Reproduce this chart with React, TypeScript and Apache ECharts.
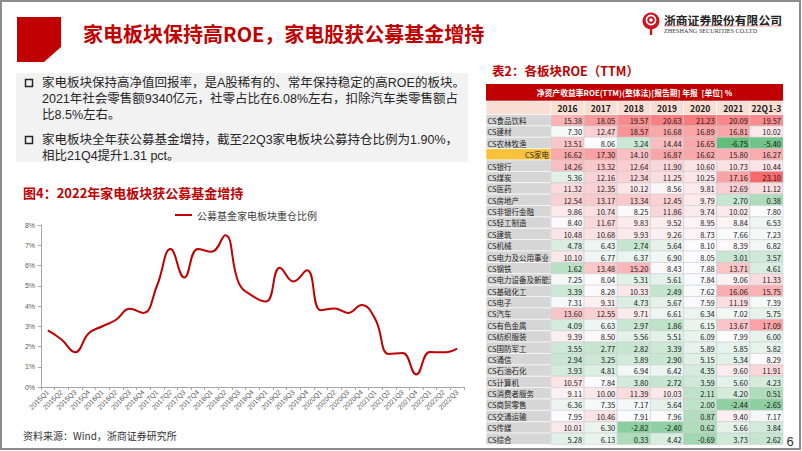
import React, { useEffect, useRef } from 'react';
import * as echarts from 'echarts';

const FONT = "'Noto Sans CJK SC', 'Noto Sans', sans-serif";
const BODY_FONT = "'Liberation Sans', 'Noto Sans CJK SC', sans-serif";
const LATIN = "'Liberation Sans', 'Noto Sans', sans-serif";
const RED = '#C00000';

// ---- line chart data ----
const quarters = [
  '2015Q1', '2015Q2', '2015Q3', '2015Q4',
  '2016Q1', '2016Q2', '2016Q3', '2016Q4',
  '2017Q1', '2017Q2', '2017Q3', '2017Q4',
  '2018Q1', '2018Q2', '2018Q3', '2018Q4',
  '2019Q1', '2019Q2', '2019Q3', '2019Q4',
  '2020Q1', '2020Q2', '2020Q3', '2020Q4',
  '2021Q1', '2021Q2', '2021Q3', '2021Q4',
  '2022Q1', '2022Q2', '2022Q3',
];
const holdingRatio = [
  2.8, 2.35, 1.72, 2.65,
  3.0, 3.32, 3.86, 3.66,
  5.0, 6.82, 5.41, 6.82,
  6.68, 7.5, 5.13, 4.5,
  4.22, 5.89, 5.21, 5.76,
  3.79, 3.88, 3.66, 4.05,
  3.35, 1.63, 1.68, 0.62,
  1.73, 1.71, 1.9,
];
const seriesName = '公募基金家电板块重仓比例';

// ---- table data ----
const yearHeaders = ['2016', '2017', '2018', '2019', '2020', '2021', '22Q1-3'];
const sectors = [
  'CS食品饮料', 'CS建材', 'CS农林牧渔', 'CS家电', 'CS银行', 'CS煤炭', 'CS医药', 'CS房地产',
  'CS非银行金融', 'CS轻工制造', 'CS建筑', 'CS机械', 'CS电力及公用事业', 'CS钢铁',
  'CS电力设备及新能源', 'CS基础化工', 'CS电子', 'CS汽车', 'CS有色金属', 'CS纺织服装',
  'CS国防军工', 'CS通信', 'CS石油石化', 'CS计算机', 'CS消费者服务', 'CS商贸零售',
  'CS交通运输', 'CS传媒', 'CS综合',
];
const roe2016 = [15.38, 7.30, 13.51, 16.62, 14.26, 5.36, 11.32, 12.54, 9.86, 8.40, 10.48, 4.78, 10.10, 1.62, 7.25, 3.39, 7.31, 13.60, 4.09, 9.39, 3.55, 2.94, 3.93, 10.57, 9.11, 6.36, 7.95, 10.01, 5.28];
const roe2017 = [18.05, 12.47, 8.06, 17.30, 13.32, 12.16, 12.35, 13.17, 10.74, 11.67, 10.68, 6.43, 6.77, 13.48, 8.04, 8.28, 9.31, 12.55, 6.63, 8.50, 2.77, 3.25, 4.81, 7.84, 10.00, 7.35, 10.46, 6.30, 6.13];
const roe2018 = [19.57, 18.57, 3.24, 14.10, 12.64, 12.34, 10.12, 13.34, 8.25, 9.83, 9.93, 2.74, 6.37, 15.20, 5.31, 10.33, 4.73, 9.71, 2.97, 5.56, 2.82, 3.89, 6.94, 3.80, 11.39, 7.17, 7.91, -2.82, 0.33];
const roe2019 = [20.63, 16.68, 14.44, 16.87, 11.90, 11.25, 8.56, 12.45, 11.86, 9.52, 9.26, 5.64, 6.90, 8.43, 5.61, 2.49, 5.67, 6.61, 1.86, 5.51, 3.39, 2.90, 6.42, 2.72, 10.03, 5.64, 7.96, -2.40, 4.42];
const roe2020 = [21.23, 16.89, 16.65, 16.62, 10.60, 10.25, 9.81, 9.79, 9.74, 8.95, 8.73, 8.10, 8.05, 7.88, 7.84, 7.62, 7.59, 6.34, 6.15, 6.09, 5.89, 5.15, 4.35, 3.59, 2.11, 2.00, 0.87, 0.62, -0.69];
const roe2021 = [20.09, 16.81, -6.75, 15.80, 10.73, 17.16, 12.69, 2.70, 10.02, 8.84, 7.66, 8.39, 3.01, 13.71, 9.06, 16.06, 11.19, 7.02, 13.67, 7.99, 5.85, 5.34, 9.60, 5.60, 4.20, -2.44, 9.40, 5.66, 3.73];
const roe22Q13 = [19.57, 10.02, -5.40, 16.27, 10.44, 23.10, 11.12, 0.38, 7.80, 6.53, 7.23, 6.82, 3.57, 4.61, 11.33, 15.75, 7.39, 5.75, 17.09, 6.00, 5.82, 8.29, 11.91, 4.23, 0.51, -2.65, 7.17, 3.84, 2.62];
const highlightSector = 'CS家电';

const roeColumns = [roe2016, roe2017, roe2018, roe2019, roe2020, roe2021, roe22Q13];

// colour scale (green - white - red), like a 3-colour conditional format
const allVals = roeColumns.flat().slice().sort((a, b) => a - b);
const vMin = allVals[0];
const vMax = allVals[allVals.length - 1];
const vMid = (() => {
  const k = 0.5 * (allVals.length - 1);
  const lo = Math.floor(k);
  const hi = Math.ceil(k);
  return allVals[lo] + (allVals[hi] - allVals[lo]) * (k - lo);
})();
const GREEN = [99, 190, 123];
const WHITE = [252, 252, 255];
const REDC = [248, 105, 107];
function mix(a: number[], b: number[], t: number) {
  const c = a.map((x, i) => Math.round(x + (b[i] - x) * t));
  return `rgb(${c[0]},${c[1]},${c[2]})`;
}
function cellColor(v: number) {
  if (v <= vMid) return mix(GREEN, WHITE, (v - vMin) / (vMid - vMin));
  return mix(WHITE, REDC, (v - vMid) / (vMax - vMid));
}

const cellData: number[][] = [];
roeColumns.forEach((col, c) => col.forEach((v, r) => cellData.push([c, r, v])));

export default function App() {
  const ref = useRef<HTMLDivElement>(null);

  useEffect(() => {
    if (!ref.current) return;
    const chart = echarts.init(ref.current, null, { renderer: 'svg' });

    const bulletLines = [
      { y: 83, t: '家电板块保持高净值回报率，是A股稀有的、常年保持稳定的高ROE的板块。' },
      { y: 99, t: '2021年社会零售额9340亿元，社零占比在6.08%左右，扣除汽车类零售额占' },
      { y: 115, t: '比8.5%左右。' },
      { y: 140, t: '家电板块全年获公募基金增持，截至22Q3家电板块公募持仓比例为1.90%，' },
      { y: 156, t: '相比21Q4提升1.31 pct。' },
    ];

    const graphics: any[] = [
      { type: 'rect', shape: { x: 1, y: 1, width: 799, height: 448 }, style: { fill: 'none', stroke: '#8c8c8c', lineWidth: 2 }, z: 100 },
      { type: 'polygon', shape: { points: [[17, 17], [61, 17], [61, 47], [44, 62], [17, 62]] }, style: { fill: RED } },
      { type: 'text', x: 83, y: 33, style: { text: '家电板块保持高ROE，家电股获公募基金增持', fontSize: 20, fontWeight: 'bold', fontFamily: FONT, fill: RED, align: 'left', verticalAlign: 'middle' } },
      // logo
      { type: 'circle', shape: { cx: 651, cy: 21, r: 8.5 }, style: { fill: '#C8161D' } },
      { type: 'circle', shape: { cx: 651, cy: 20, r: 4.6 }, style: { fill: 'none', stroke: '#fff', lineWidth: 1.6 } },
      { type: 'circle', shape: { cx: 651, cy: 20, r: 1.8 }, style: { fill: '#fff' } },
      { type: 'rect', shape: { x: 649.8, y: 27, width: 2.4, height: 8 }, style: { fill: '#C8161D' } },
      { type: 'text', x: 664, y: 19, style: { text: '浙商证券股份有限公司', fontSize: 11.8, fontWeight: 'bold', fontFamily: FONT, fill: '#222', align: 'left', verticalAlign: 'middle' } },
      { type: 'line', shape: { x1: 664, y1: 26, x2: 782, y2: 26 }, style: { stroke: '#e06060', lineWidth: 0.6 } },
      { type: 'text', x: 664, y: 30.5, style: { text: 'ZHESHANG SECURITIES CO.LTD', fontSize: 6.2, fontFamily: "'Liberation Serif', serif", fill: '#333', align: 'left', verticalAlign: 'middle' } },
      // text box
      { type: 'rect', shape: { x: 16, y: 73, width: 452, height: 89 }, style: { fill: '#F2F2F2' } },
      { type: 'rect', shape: { x: 25.5, y: 79.5, width: 7, height: 7 }, style: { fill: 'none', stroke: '#262626', lineWidth: 1.5 } },
      { type: 'rect', shape: { x: 25.5, y: 136.5, width: 7, height: 7 }, style: { fill: 'none', stroke: '#262626', lineWidth: 1.5 } },
      ...bulletLines.map((l) => ({ type: 'text', x: 42, y: l.y, style: { text: l.t, fontSize: 12.5, fontFamily: BODY_FONT, fill: '#262626', align: 'left', verticalAlign: 'middle' } })),
      // chart title & source
      { type: 'text', x: 23, y: 192, style: { text: '图4：2022年家电板块获公募基金增持', fontSize: 13, fontWeight: 'bold', fontFamily: FONT, fill: RED, align: 'left', verticalAlign: 'middle' } },
      { type: 'text', x: 23, y: 435, style: { text: '资料来源：Wind，浙商证券研究所', fontSize: 10, fontFamily: FONT, fill: '#333', align: 'left', verticalAlign: 'middle' } },
      // table title & header
      { type: 'text', x: 492, y: 70, style: { text: '表2：各板块ROE（TTM）', fontSize: 12.5, fontWeight: 'bold', fontFamily: FONT, fill: RED, align: 'left', verticalAlign: 'middle' } },
      { type: 'rect', shape: { x: 486, y: 84, width: 297, height: 17 }, style: { fill: RED } },
      { type: 'text', x: 634.5, y: 92.5, style: { text: '净资产收益率ROE(TTM)(整体法)[报告期] 年报  [单位] %', fontSize: 7.8, fontWeight: 'bold', fontFamily: FONT, fill: '#fff', align: 'center', verticalAlign: 'middle' } },
      { type: 'rect', shape: { x: 486, y: 101, width: 65, height: 13.5 }, style: { fill: '#F8DED3', stroke: '#ffffff', lineWidth: 0.6 } },
      // page number
      { type: 'text', x: 790, y: 441, style: { text: '6', fontSize: 13, fontFamily: LATIN, fill: '#333', align: 'center', verticalAlign: 'middle' } },
    ];

    const option: any = {
      animation: false,
      backgroundColor: '#ffffff',
      legend: {
        data: [seriesName],
        left: 170,
        top: 205,
        icon: 'rect',
        itemWidth: 17,
        itemHeight: 2,
        itemGap: 4,
        textStyle: { fontSize: 10, color: '#404040', fontFamily: FONT },
      },
      grid: [
        { left: 41, top: 225, width: 423, height: 162 },
        { left: 486, top: 114.5, width: 65, height: 330 },
        { left: 551, top: 114.5, width: 232, height: 330 },
        { left: 551, top: 101, width: 232, height: 13.5 },
      ],
      xAxis: [
        {
          type: 'category', gridIndex: 0, data: quarters, boundaryGap: true,
          axisLine: { lineStyle: { color: '#A6A6A6', width: 1 } },
          axisTick: { show: true, interval: 0, length: 3, lineStyle: { color: '#A6A6A6' } },
          axisLabel: { rotate: 45, interval: 0, fontSize: 7, color: '#595959', margin: 4, fontFamily: LATIN },
        },
        { type: 'category', gridIndex: 1, data: ['name'], show: false },
        { type: 'category', gridIndex: 2, data: yearHeaders, show: false },
        { type: 'category', gridIndex: 3, data: yearHeaders, show: false },
      ],
      yAxis: [
        {
          type: 'value', gridIndex: 0, min: 0, max: 8, interval: 1,
          axisLine: { show: true, lineStyle: { color: '#A6A6A6', width: 1 } },
          axisTick: { show: true, length: 3, lineStyle: { color: '#A6A6A6' } },
          splitLine: { show: false },
          axisLabel: { formatter: '{value}%', fontSize: 7, color: '#595959', margin: 6, fontFamily: LATIN },
        },
        { type: 'category', gridIndex: 1, data: sectors, inverse: true, show: false },
        { type: 'category', gridIndex: 2, data: sectors, inverse: true, show: false },
        { type: 'category', gridIndex: 3, data: ['hdr'], show: false },
      ],
      series: [
        {
          type: 'line', name: seriesName, xAxisIndex: 0, yAxisIndex: 0,
          data: holdingRatio, smooth: 0.45, symbol: 'none',
          lineStyle: { color: RED, width: 2 }, itemStyle: { color: RED },
        },
        {
          type: 'custom', xAxisIndex: 1, yAxisIndex: 1, silent: true, clip: false, z: 2,
          encode: { x: 0, y: 1 },
          data: sectors.map((_, i) => [0, i]),
          renderItem: (params: any, api: any) => {
            const r = api.value(1);
            const p = api.coord([0, r]);
            const s = api.size([1, 1]);
            const w = s[0];
            const h = s[1];
            const name = sectors[r];
            const hl = name === highlightSector;
            return {
              type: 'group',
              children: [
                { type: 'rect', shape: { x: p[0] - w / 2, y: p[1] - h / 2, width: w, height: h }, style: { fill: hl ? '#F9C23C' : '#D6D6D6', stroke: '#ffffff', lineWidth: 0.6 } },
                { type: 'text', x: hl ? p[0] + w / 2 - 2 : p[0] - w / 2 + 1.5, y: p[1] + 0.3, style: { text: name, fontSize: 7.5, fontFamily: FONT, fill: '#262626', align: hl ? 'right' : 'left', verticalAlign: 'middle' } },
              ],
            };
          },
        },
        {
          type: 'custom', xAxisIndex: 2, yAxisIndex: 2, silent: true, clip: false, z: 3,
          encode: { x: 0, y: 1 },
          data: cellData,
          renderItem: (params: any, api: any) => {
            const c = api.value(0);
            const r = api.value(1);
            const v = api.value(2);
            const p = api.coord([c, r]);
            const s = api.size([1, 1]);
            const w = s[0];
            const h = s[1];
            return {
              type: 'group',
              children: [
                { type: 'rect', shape: { x: p[0] - w / 2, y: p[1] - h / 2, width: w, height: h }, style: { fill: cellColor(v), stroke: '#c8c8c8', lineWidth: 0.5 } },
                { type: 'text', x: p[0] + w / 2 - 2, y: p[1] + 0.3, style: { text: v.toFixed(2), fontSize: 7.5, fontFamily: FONT, fill: '#1a1a1a', align: 'right', verticalAlign: 'middle' } },
              ],
            };
          },
        },
        {
          type: 'custom', xAxisIndex: 3, yAxisIndex: 3, silent: true, clip: false, z: 3,
          encode: { x: 0, y: 1 },
          data: yearHeaders.map((_, i) => [i, 0]),
          renderItem: (params: any, api: any) => {
            const c = api.value(0);
            const p = api.coord([c, 0]);
            const s = api.size([1, 1]);
            const w = s[0];
            const h = s[1];
            return {
              type: 'group',
              children: [
                { type: 'rect', shape: { x: p[0] - w / 2, y: p[1] - h / 2, width: w, height: h }, style: { fill: '#F8DED3', stroke: '#ffffff', lineWidth: 0.6 } },
                { type: 'text', x: p[0], y: p[1] + 0.3, style: { text: yearHeaders[c], fontSize: 8.5, fontWeight: 'bold', fontFamily: FONT, fill: '#1a1a1a', align: 'center', verticalAlign: 'middle' } },
              ],
            };
          },
        },
      ],
      graphic: { elements: graphics },
    };

    chart.setOption(option);
    return () => chart.dispose();
  }, []);

  return (
    <div
      ref={ref}
      style={{ position: 'absolute', left: 0, top: 0, width: 802, height: 451, background: '#fff' }}
    />
  );
}
